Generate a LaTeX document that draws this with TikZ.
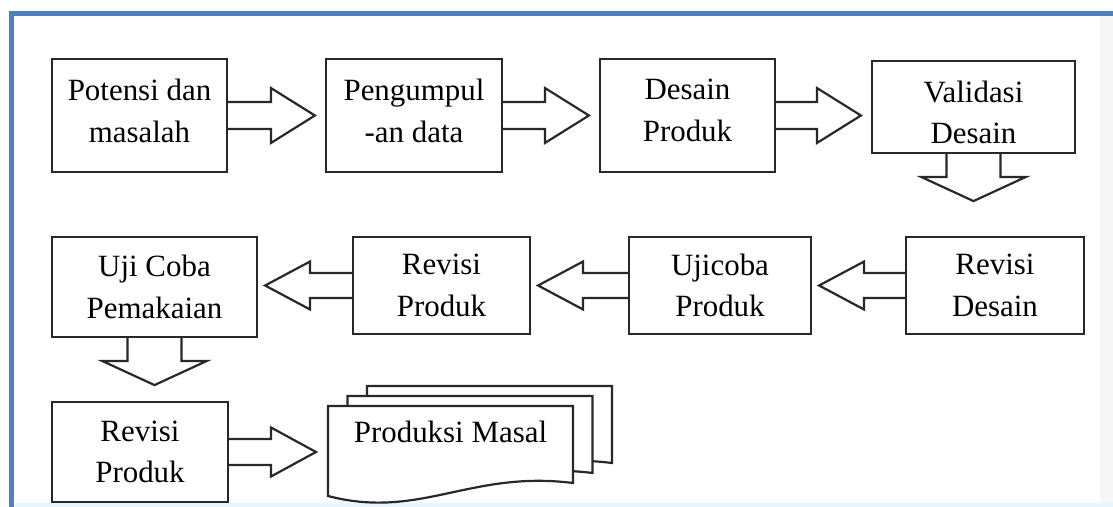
\documentclass[tikz,border=0pt]{standalone}
\usepackage{fontspec}
\setmainfont{Liberation Serif}
\usepackage{xcolor}
\usepackage{tikz}
\usetikzlibrary{calc}

\definecolor{frameblue}{RGB}{79,129,189}
\definecolor{boxline}{RGB}{40,40,40}

\begin{document}
\begin{tikzpicture}[
                        x=0.02cm,
                        y=-0.02cm,
                        every node/.style={
                                font=\fontsize{17.6pt}{23.8pt}\selectfont,
                                align=center,
                                inner sep=0pt,
                            },
                        box/.style={
                                draw=boxline,
                                line width=1.25pt,
                                minimum width=3.5cm,
                                minimum height=2.26cm,
                            },
                        toprow/.style={box, text depth=0.2cm},
                        fatarrow/.style={draw=boxline, line width=1.25pt, line join=miter},
                        page/.style={draw=boxline, line width=1.25pt, fill=white},
                    ]

                    \useasboundingbox (0,0) rectangle (1113,507);
                    \fill[gray!7] (1100,16) rectangle (1113,507);
                    \fill[cyan!10] (15,503) rectangle (1113,507);
                    \draw[frameblue, line width=2.8pt] (11.5,507) -- (11.5,13.5) -- (1113,13.5);

                    \node[toprow] (b1) at (139.5,115.5) {Potensi dan\\masalah};
                    \node[toprow, minimum width=3.52cm] (b2) at (414,115.5) {Pengumpul\\-an data};
                    \node[toprow] (b3) at (687.5,115.5) {Desain\\Produk};
                    \node[box, minimum width=4.06cm, minimum height=1.84cm, text height=1.48cm] (b4) at (973.5,107) {Validasi\\Desain};

                    \node[box, minimum width=4.1cm, minimum height=2cm] (c1) at (154.5,287) {Uji Coba\\Pemakaian};
                    \node[box, minimum width=3.54cm, minimum height=1.94cm] (c2) at (441.5,285.5) {Revisi\\Produk};
                    \node[box, minimum width=3.64cm, minimum height=1.94cm] (c3) at (720,285.5) {Ujicoba\\Produk};
                    \node[box, minimum width=3.56cm, minimum height=1.94cm] (c4) at (995,285.5) {Revisi\\Desain};

                    \node[box, minimum width=3.52cm, minimum height=2cm] (d1) at (140,452) {Revisi\\Produk};

                    \foreach \dx/\dy in {39/-20,19.5/-10,0/0}{
                            \draw[page, shift={(\dx,\dy)}] (328,406) -- (573,406) -- (573,483)
                            .. controls (470,470) and (420,520) .. (328,496) -- cycle;
                        }
                    \node (masal) at (450.5,432) {Produksi Masal};
                    \coordinate (masalin) at (328,451);

                    \foreach \src/\dst in {b1/b2,b2/b3,b3/b4}{
                            \draw[fatarrow] ($(\src.east)+(0,-13.5)$)
                            -- ($(\src.east -| \dst.west)+(-54,-13.5)$) -- ++(0,-14)
                            -- ($(\src.east -| \dst.west)+(-10,0)$)
                            -- ($(\src.east -| \dst.west)+(-54,27.5)$) -- ++(0,-14)
                            -- ($(\src.east)+(0,13.5)$);
                        }

                    \foreach \src/\dst in {c4/c3,c3/c2,c2/c1}{
                            \draw[fatarrow] ($(\src.west)+(0,-12.5)$)
                            -- ($(\src.west -| \dst.east)+(52,-12.5)$) -- ++(0,-11.5)
                            -- ($(\src.west -| \dst.east)+(7,0)$)
                            -- ($(\src.west -| \dst.east)+(52,24)$) -- ++(0,-11.5)
                            -- ($(\src.west)+(0,12.5)$);
                        }

                    \foreach \src in {b4,c1}{
                            \draw[fatarrow] ($(\src.south)+(-27,0)$) -- ++(0,23) -- ++(-25,0)
                            -- ($(\src.south)+(0,47)$)
                            -- ($(\src.south)+(52,23)$) -- ++(-25,0)
                            -- ($(\src.south)+(27,0)$);
                        }

                    \draw[fatarrow] ($(d1.east)+(0,-13)$)
                    -- ($(d1.east -| masalin)+(-57,-13)$) -- ++(0,-11.5)
                    -- ($(d1.east -| masalin)+(-12,0)$)
                    -- ($(d1.east -| masalin)+(-57,24.5)$) -- ++(0,-11.5)
                    -- ($(d1.east)+(0,13)$);
                \end{tikzpicture}
\end{document}
